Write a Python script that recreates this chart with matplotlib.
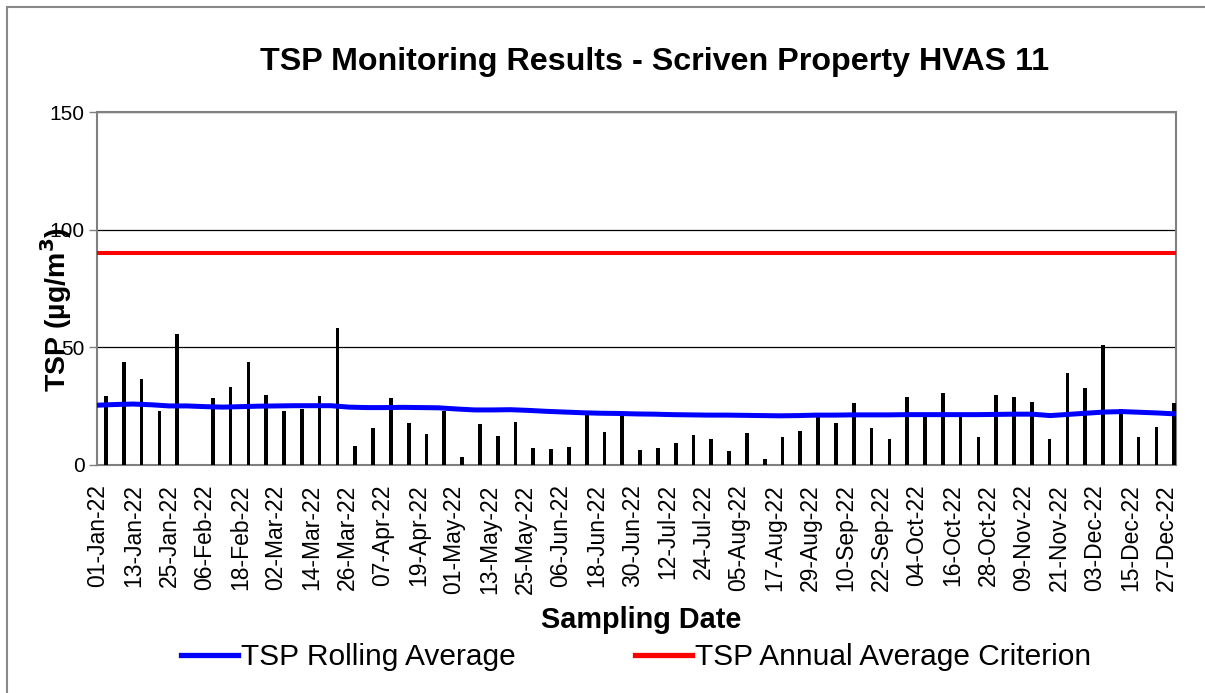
import numpy as np
import pandas as pd
import matplotlib
matplotlib.use("Agg")
import matplotlib.pyplot as plt
import matplotlib.transforms as mtransforms
from matplotlib.patches import Rectangle

plt.rcParams["font.family"] = ["Liberation Sans", "DejaVu Sans"]

# sampling dates: 1-in-6-day HVAS run through 2022
DATES = pd.date_range("2022-01-01", periods=61, freq="6D")
TSP = [29.5, 43.9, 36.4, 23.1, 55.5, np.nan, 28.3, 33.0, 43.9, 29.7,
       23.1, 24.0, 29.2, 58.1, 8.1, 15.9, 28.6, 18.0, 13.0, 22.8,
       3.4, 17.3, 12.2, 18.1, 7.4, 6.7, 7.8, 21.5, 13.9, 21.5,
       6.4, 7.4, 9.2, 12.9, 11.0, 5.9, 13.6, 2.6, 11.8, 14.6,
       21.0, 18.0, 26.5, 15.6, 11.2, 28.8, 20.3, 30.6, 20.5, 12.0,
       29.9, 28.8, 26.9, 11.2, 39.0, 32.9, 50.9, 23.9, 11.8, 16.1, 26.5]
ROLLING = [25.4, 25.7, 25.9, 25.6, 25.1, 25.1, 24.8, 24.6, 24.8, 25.0,
           25.1, 25.2, 25.2, 25.2, 24.6, 24.4, 24.4, 24.5, 24.4, 24.3,
           23.8, 23.4, 23.4, 23.5, 23.2, 22.8, 22.5, 22.2, 22.0, 21.9,
           21.7, 21.6, 21.4, 21.3, 21.2, 21.2, 21.1, 21.0, 20.9, 21.0,
           21.2, 21.2, 21.3, 21.3, 21.3, 21.4, 21.4, 21.4, 21.4, 21.4,
           21.5, 21.6, 21.6, 21.0, 21.5, 22.0, 22.5, 22.7, 22.4, 22.1, 21.7]
CRITERION = 90
YTICKS = [0, 50, 100, 150]

W, H = 1205, 693
fig = plt.figure(figsize=(W / 100, H / 100), dpi=100)
fig.patches.append(Rectangle((7 / W, -0.1), 1.2, 1 - 7 / H + 0.1, transform=fig.transFigure,
                             facecolor="none", edgecolor="#888888", lw=1.5))

ax = fig.add_axes([97 / W, 1 - 465 / H, (1176 - 97) / W, (465 - 112) / H])
days = np.array([(d - DATES[0]).days for d in DATES])
ax.bar(days, TSP, width=1.25, color="black", lw=0, zorder=3)
ax.set_xlim(-3.03, 360.6)
ax.set_ylim(0, 150)
ax.set_yticks(YTICKS)
ax.tick_params(axis="y", direction="out", length=6, width=1, color="#808080",
               labelsize=15, pad=3)
ax.yaxis.grid(True, color="black", lw=0.9, zorder=1)
for s in ax.spines.values():
    s.set_color("#808080")
    s.set_linewidth(1.5)

ax.set_xticks(days[::2])
ax.set_xticklabels([d.strftime("%d-%b-%y") for d in DATES[::2]], rotation=90)
ax.tick_params(axis="x", length=0, labelsize=16.5, pad=14)
shift = mtransforms.ScaledTranslation(-8 / 100, 0, fig.dpi_scale_trans)
for lab in ax.get_xticklabels():
    lab.set_transform(lab.get_transform() + shift)

# line series sit on their own category axis, edge to edge
ax2 = ax.twiny()
idx = np.arange(len(ROLLING))
ax2.plot(idx, ROLLING, color="#0000FF", lw=3.6, zorder=4, label="TSP Rolling Average")
ax2.plot(idx, [CRITERION] * len(idx), color="#FF0000", lw=2.9, zorder=4,
         label="TSP Annual Average Criterion")
ax2.set_xlim(0, len(idx) - 1)
ax2.set_ylim(0, 150)
ax2.set_xticks([])
ax2.axis("off")

fig.text(655 / W, 1 - 62 / H, "TSP Monitoring Results - Scriven Property HVAS 11",
         ha="center", va="center", fontsize=23.2, fontweight="bold")
fig.text(641 / W, 1 - 620 / H, "Sampling Date", ha="center", va="center",
         fontsize=20.8, fontweight="bold")
fig.text(56 / W, 1 - 309 / H, "TSP (µg/m$^\\mathbf{3}$)", ha="center", va="center",
         rotation=90, fontsize=20.5, fontweight="bold")

leg = fig.legend(loc="center", bbox_to_anchor=(636 / W, 1 - 657 / H), ncol=2, frameon=False,
                 fontsize=21.5, handlelength=1.9, handletextpad=0.1, columnspacing=4.0,
                 borderaxespad=0)
for ln in leg.get_lines():
    ln.set_linewidth(3.8)

fig.savefig("out.png", dpi=100)
